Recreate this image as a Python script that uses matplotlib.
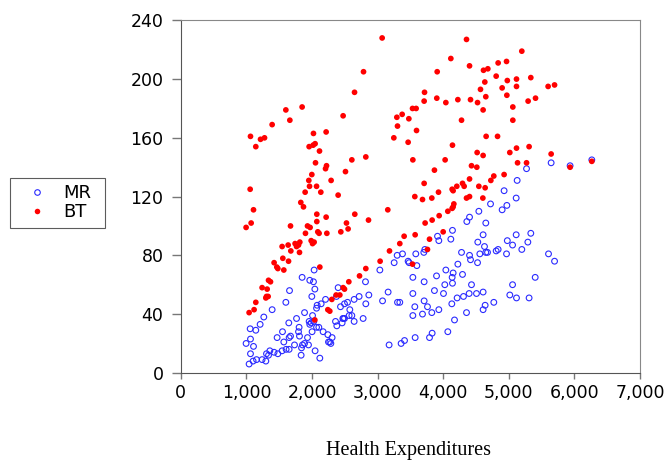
import numpy as np
import matplotlib
matplotlib.use("Agg")
import matplotlib.pyplot as plt
from matplotlib.ticker import FuncFormatter
from matplotlib.lines import Line2D

# BT series (x = health expenditures, y = value)
bt_x = [3069, 2785, 2648, 1849, 1601, 1662, 1392, 1062, 1143, 1215, 1276, 2474, 2022, 2215,
        1956, 2017, 2047, 2114, 2053, 2221, 2206, 1997, 1951, 1962, 2069, 2291, 2510, 2607,
        2820, 1895, 2134, 2398, 1057, 3293, 3374, 3303, 3247, 3476, 3532, 3587, 3593, 3465,
        3537, 3567,
        4355, 5198, 4116, 4837, 4965, 4401, 3908, 4614, 4680, 4807, 4977, 5117, 5335, 4634,
        5599, 5697, 4568, 4898, 5117, 3715, 4649, 4970, 3709, 3902, 4040, 4223, 4416, 4523,
        4608, 5294, 5407, 5061, 4279, 5061, 4654, 4828, 4141, 4029, 4517, 4608, 5117, 5309,
        5015, 5645, 4431, 4512, 5133, 5270, 3866, 5934, 6265, 3709, 4928, 4771, 4401, 4726,
        4294, 4319, 4207, 4136, 4151, 4543, 4639, 3928, 3684, 3826, 4355, 4401, 4604,
        4162, 4151, 4136, 4070, 3938, 3831, 3724, 3999, 3572, 3404, 3338, 3791, 3760, 3532,
        1108, 1072, 995, 1829, 1870, 2073, 2215, 2073, 2652, 3155, 2861, 2525, 2550, 1931,
        1971, 1672, 2088, 2108, 1900, 2226, 2439, 1987, 2032, 2008, 1814, 1794, 1764, 1742,
        1636, 1544, 1677, 1809, 1555, 1642, 1422, 1463, 1479, 1570, 2119, 1337, 1367, 1239,
        1316, 1306, 1296, 1331, 1143, 1117, 1041, 2474, 2495, 2424, 2368, 2302, 2241, 2271,
        2043, 2561, 2724, 2820, 3038, 3181]
bt_y = [228, 205, 191, 181, 179, 172, 169, 161, 154, 159, 160, 175, 163, 164,
        154, 155, 156, 151, 143, 141, 139, 135, 131, 127, 127, 131, 137, 145,
        147, 123, 123, 121, 125, 174, 176, 168, 160, 173, 180, 180, 165, 157,
        145, 120,
        227, 219, 214, 211, 212, 209, 205, 206, 207, 202, 199, 200, 201, 198,
        195, 196, 193, 194, 195, 191, 188, 189, 185, 187, 184, 186, 186, 184,
        179, 185, 187, 181, 172, 172, 161, 161, 155, 145, 150, 148, 153, 154,
        150, 149, 141, 140, 143, 143, 138, 140, 144, 129, 135, 134, 132, 131,
        129, 127, 127, 125, 124, 127, 126, 123, 118, 119, 119, 120, 119,
        115, 113, 112, 110, 107, 104, 102, 96, 94, 93, 88, 91, 84, 74,
        111, 102, 99, 116, 113, 108, 106, 103, 108, 111, 104, 102, 98, 100,
        99, 100, 96, 95, 95, 95, 96, 90, 89, 88, 89, 87, 86, 88,
        87, 86, 83, 82, 78, 76, 75, 72, 71, 70, 72, 63, 62, 58,
        57, 52, 51, 52, 48, 43, 41, 58, 57, 53, 53, 50, 43, 42,
        36, 62, 66, 71, 76, 83]

# MR series
mr_x = [5270, 5645, 5934, 6265, 5127, 4928, 5112,
        4721, 4970, 4898, 4543, 4401, 4360, 4649, 4141, 4116, 3913, 3933, 4608, 4527, 5112,
        5335, 4977, 5057, 5290, 5198, 4629, 4649, 4675, 4558, 4807, 4837, 4965, 4279, 4401,
        4416, 4523, 4223, 5605, 5697, 3720, 3704, 3582, 3379, 3465, 3480, 3598, 4040, 4294,
        4151, 4136, 3898, 3537, 3709, 4024, 4004, 4141, 4431, 5057, 5402, 3866, 3537, 4395,
        4507, 4608, 4309, 4212, 4131, 5015, 5117, 5309, 4771, 4639, 4608, 3709, 3760, 3567,
        3338, 3933, 3826, 3684, 3537, 4355, 4172, 4070, 3831, 3791, 3572, 3410, 3358,
        2032, 1849, 1966, 2022, 2043, 1657, 1601, 1997, 2206, 2398, 2373, 2541, 2495, 2642,
        2718, 2866, 2815, 2820, 1392, 1265, 2078, 2139, 2069, 2434, 2576, 2566, 2607, 2470,
        2779, 1886, 2008, 1764, 1956, 1986, 2027, 2069, 2104, 1646, 1803, 1794, 1809, 1672,
        1651, 1550, 1468, 1209, 1143, 1057, 1062, 1108, 1062, 995, 1041, 1102, 1154, 1239,
        1296, 1337, 1306, 1357, 1422, 1479, 1544, 1605, 1651, 1570, 1733, 1840, 1834, 1886,
        1946, 2047, 2119, 1931, 1855, 2169, 2241, 2306, 2251, 2287, 2271, 1966, 2001, 2378,
        2459, 2480, 2495, 2642, 2358, 3034, 3160, 3075, 3303, 3175, 3252, 3298]
mr_y = [139, 143, 141, 145, 131, 124, 119,
        115, 114, 111, 110, 106, 103, 102, 97, 91, 93, 90, 94, 89, 94,
        95, 90, 87, 89, 84, 86, 82, 82, 81, 83, 84, 81, 82, 80,
        77, 75, 74, 81, 76, 84, 82, 81, 81, 76, 75, 73, 70, 67,
        68, 65, 66, 65, 62, 60, 54, 61, 60, 60, 65, 56, 54, 54,
        54, 55, 52, 51, 47, 53, 51, 51, 48, 46, 43, 49, 45, 45,
        48, 43, 41, 40, 39, 41, 36, 28, 27, 24, 24, 22, 20,
        70, 65, 63, 62, 57, 56, 48, 52, 50, 58, 52, 48, 47, 50,
        52, 53, 62, 47, 43, 38, 46, 47, 44, 45, 43, 39, 39, 37,
        37, 41, 39, 37, 35, 34, 35, 31, 31, 34, 31, 28, 25, 25,
        24, 28, 24, 33, 29, 30, 23, 18, 13, 20, 6, 8, 9, 9,
        8, 12, 13, 15, 14, 13, 15, 16, 16, 21, 19, 17, 12, 20,
        19, 15, 10, 24, 19, 28, 26, 24, 21, 20, 21, 33, 28, 32,
        34, 37, 37, 35, 35, 70, 55, 49, 48, 19, 75, 80]

x_ticks = [0, 1000, 2000, 3000, 4000, 5000, 6000, 7000]
y_ticks = [0, 40, 80, 120, 160, 200, 240]

plt.rcParams['font.family'] = ['DejaVu Sans']

fig = plt.figure(figsize=(6.66, 4.62), dpi=100)
ax = fig.add_axes([0.2715, 0.193, 0.6895, 0.763])

ax.scatter(mr_x, mr_y, s=17, facecolors='none', edgecolors='#2a2aff', linewidths=0.8, zorder=2)
ax.scatter(bt_x, bt_y, s=17, color='#ff0000', edgecolors='none', zorder=3)

ax.set_xlim(0, 7000)
ax.set_ylim(0, 240)
ax.set_xticks(x_ticks)
ax.set_yticks(y_ticks)
ax.xaxis.set_major_formatter(FuncFormatter(lambda v, p: f"{int(v):,}"))

for side in ['left', 'bottom']:
    ax.spines[side].set_color('#555555')
for side in ['top', 'right']:
    ax.spines[side].set_color('#888888')
ax.tick_params(axis='y', length=6.5, width=1, color='#777777', labelsize=12.5, pad=6)
ax.tick_params(axis='x', length=4.5, width=1, color='#777777', labelsize=12.5, pad=3.5)

fig.text(408.5 / 666, 1 - 450 / 462, "Health Expenditures", ha='center', va='center',
         fontsize=14.5, family='Liberation Serif')

handles = [
    Line2D([], [], marker='o', ls='none', markersize=4, markerfacecolor='none',
           markeredgecolor='#2a2aff', markeredgewidth=0.8),
    Line2D([], [], marker='o', ls='none', markersize=4, markerfacecolor='#ff0000',
           markeredgecolor='none'),
]
leg = fig.legend(handles, ['MR', 'BT'], loc='upper left',
                 bbox_to_anchor=(10 / 666, 1 - 228 / 462, 95 / 666, 50 / 462), mode='expand',
                 frameon=True, fancybox=False, edgecolor='#333333', fontsize=13,
                 handlelength=2.3, handletextpad=0.3, borderpad=0.35, labelspacing=0.05,
                 borderaxespad=0)
leg.get_frame().set_linewidth(0.8)

plt.savefig('out.png', dpi=100)
